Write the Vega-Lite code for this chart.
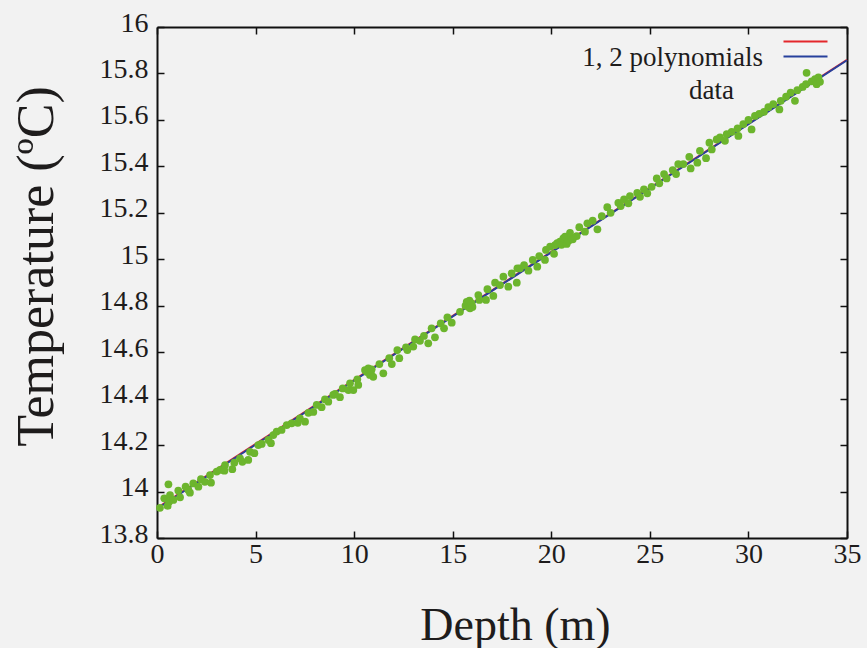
{
  "$schema": "https://vega.github.io/schema/vega-lite/v6.json",
  "width": 690,
  "height": 511,
  "autosize": {"type": "none"},
  "padding": {"left": 157, "top": 27, "right": 20, "bottom": 110},
  "background": "#f2f2f2",
  "config": {
    "font": "Liberation Serif",
    "view": {"stroke": null},
    "axis": {
      "grid": false,
      "domainColor": "#111111",
      "domainWidth": 2,
      "tickColor": "#111111",
      "tickWidth": 1.5,
      "tickSize": -7,
      "labelColor": "#1e1c1c",
      "labelFontSize": 28,
      "labelFont": "Liberation Serif",
      "titleFont": "Liberation Serif",
      "titleColor": "#1e1c1c",
      "titleFontWeight": "normal",
      "labelFlush": false,
      "labelOverlap": false
    },
    "legend": {"labelFont": "Liberation Serif", "labelColor": "#1e1c1c", "padding": 0, "labelLimit": 400}
  },
  "datasets": {
    "fits": [
      {"depth": 0, "temp": 13.929, "fit": "poly1"},
      {"depth": 35, "temp": 15.859, "fit": "poly1"},
      {"depth": 0, "temp": 13.926, "fit": "poly2"},
      {"depth": 17.5, "temp": 14.892, "fit": "poly2"},
      {"depth": 35, "temp": 15.857, "fit": "poly2"}
    ],
    "points": [
      {"depth": 0.15, "temp": 13.93}, {"depth": 0.37, "temp": 13.971}, {"depth": 0.54, "temp": 13.938},
      {"depth": 0.58, "temp": 14.031}, {"depth": 0.61, "temp": 13.956}, {"depth": 0.66, "temp": 13.985},
      {"depth": 0.83, "temp": 13.964}, {"depth": 1.08, "temp": 14.004}, {"depth": 1.17, "temp": 13.975},
      {"depth": 1.45, "temp": 14.021}, {"depth": 1.59, "temp": 14.007}, {"depth": 1.67, "temp": 13.995},
      {"depth": 1.84, "temp": 14.035}, {"depth": 2.10, "temp": 14.021}, {"depth": 2.23, "temp": 14.053},
      {"depth": 2.43, "temp": 14.042}, {"depth": 2.69, "temp": 14.071}, {"depth": 2.74, "temp": 14.038},
      {"depth": 3.03, "temp": 14.086}, {"depth": 3.20, "temp": 14.093}, {"depth": 3.42, "temp": 14.090},
      {"depth": 3.45, "temp": 14.114}, {"depth": 3.82, "temp": 14.096}, {"depth": 3.92, "temp": 14.124},
      {"depth": 4.21, "temp": 14.143}, {"depth": 4.33, "temp": 14.128}, {"depth": 4.63, "temp": 14.136},
      {"depth": 4.72, "temp": 14.171}, {"depth": 4.94, "temp": 14.165}, {"depth": 5.14, "temp": 14.200},
      {"depth": 5.31, "temp": 14.205}, {"depth": 5.65, "temp": 14.222}, {"depth": 5.78, "temp": 14.208},
      {"depth": 5.90, "temp": 14.243}, {"depth": 6.07, "temp": 14.258}, {"depth": 6.32, "temp": 14.265},
      {"depth": 6.58, "temp": 14.286}, {"depth": 6.83, "temp": 14.294}, {"depth": 7.14, "temp": 14.296},
      {"depth": 7.25, "temp": 14.315}, {"depth": 7.51, "temp": 14.301}, {"depth": 7.68, "temp": 14.339},
      {"depth": 7.93, "temp": 14.343}, {"depth": 8.10, "temp": 14.373}, {"depth": 8.35, "temp": 14.363},
      {"depth": 8.52, "temp": 14.397}, {"depth": 8.69, "temp": 14.387}, {"depth": 8.94, "temp": 14.416},
      {"depth": 9.03, "temp": 14.420}, {"depth": 9.28, "temp": 14.406}, {"depth": 9.42, "temp": 14.444},
      {"depth": 9.71, "temp": 14.437}, {"depth": 9.79, "temp": 14.466}, {"depth": 9.96, "temp": 14.437},
      {"depth": 10.16, "temp": 14.483}, {"depth": 10.21, "temp": 14.459}, {"depth": 10.55, "temp": 14.523},
      {"depth": 10.65, "temp": 14.515}, {"depth": 10.72, "temp": 14.530}, {"depth": 10.80, "temp": 14.502},
      {"depth": 10.85, "temp": 14.510}, {"depth": 10.89, "temp": 14.526}, {"depth": 10.97, "temp": 14.494},
      {"depth": 11.28, "temp": 14.549}, {"depth": 11.48, "temp": 14.509}, {"depth": 11.78, "temp": 14.574},
      {"depth": 11.91, "temp": 14.549}, {"depth": 12.19, "temp": 14.609}, {"depth": 12.29, "temp": 14.574},
      {"depth": 12.63, "temp": 14.621}, {"depth": 12.70, "temp": 14.609}, {"depth": 13.00, "temp": 14.624},
      {"depth": 13.09, "temp": 14.655}, {"depth": 13.34, "temp": 14.649}, {"depth": 13.54, "temp": 14.670},
      {"depth": 13.76, "temp": 14.638}, {"depth": 13.93, "temp": 14.703}, {"depth": 14.10, "temp": 14.664},
      {"depth": 14.39, "temp": 14.724}, {"depth": 14.56, "temp": 14.703}, {"depth": 14.73, "temp": 14.750},
      {"depth": 14.95, "temp": 14.727}, {"depth": 15.37, "temp": 14.774}, {"depth": 15.65, "temp": 14.800},
      {"depth": 15.71, "temp": 14.817}, {"depth": 15.79, "temp": 14.796}, {"depth": 15.85, "temp": 14.822},
      {"depth": 15.88, "temp": 14.789}, {"depth": 15.96, "temp": 14.810}, {"depth": 16.00, "temp": 14.795},
      {"depth": 16.30, "temp": 14.846}, {"depth": 16.35, "temp": 14.825}, {"depth": 16.69, "temp": 14.825},
      {"depth": 16.76, "temp": 14.871}, {"depth": 17.06, "temp": 14.842}, {"depth": 17.15, "temp": 14.899},
      {"depth": 17.40, "temp": 14.889}, {"depth": 17.57, "temp": 14.925}, {"depth": 17.82, "temp": 14.882},
      {"depth": 17.99, "temp": 14.939}, {"depth": 18.25, "temp": 14.899}, {"depth": 18.28, "temp": 14.961},
      {"depth": 18.41, "temp": 14.961}, {"depth": 18.62, "temp": 14.975}, {"depth": 18.84, "temp": 14.951},
      {"depth": 19.06, "temp": 14.997}, {"depth": 19.29, "temp": 14.968}, {"depth": 19.39, "temp": 15.014},
      {"depth": 19.68, "temp": 14.997}, {"depth": 19.73, "temp": 15.040}, {"depth": 19.94, "temp": 15.054},
      {"depth": 20.14, "temp": 15.023}, {"depth": 20.19, "temp": 15.061}, {"depth": 20.30, "temp": 15.070},
      {"depth": 20.44, "temp": 15.076}, {"depth": 20.52, "temp": 15.062}, {"depth": 20.61, "temp": 15.090},
      {"depth": 20.70, "temp": 15.098}, {"depth": 20.78, "temp": 15.066}, {"depth": 20.88, "temp": 15.080},
      {"depth": 20.95, "temp": 15.114}, {"depth": 21.00, "temp": 15.095}, {"depth": 21.09, "temp": 15.086},
      {"depth": 21.29, "temp": 15.100}, {"depth": 21.42, "temp": 15.138}, {"depth": 21.71, "temp": 15.119},
      {"depth": 21.83, "temp": 15.155}, {"depth": 22.10, "temp": 15.166}, {"depth": 22.34, "temp": 15.129},
      {"depth": 22.56, "temp": 15.186}, {"depth": 22.84, "temp": 15.224}, {"depth": 23.01, "temp": 15.200},
      {"depth": 23.40, "temp": 15.243}, {"depth": 23.52, "temp": 15.229}, {"depth": 23.69, "temp": 15.258},
      {"depth": 23.91, "temp": 15.241}, {"depth": 23.99, "temp": 15.272}, {"depth": 24.36, "temp": 15.286},
      {"depth": 24.50, "temp": 15.269}, {"depth": 24.70, "temp": 15.301}, {"depth": 24.87, "temp": 15.284},
      {"depth": 25.09, "temp": 15.312}, {"depth": 25.35, "temp": 15.348}, {"depth": 25.48, "temp": 15.327},
      {"depth": 25.72, "temp": 15.367}, {"depth": 25.85, "temp": 15.348}, {"depth": 26.16, "temp": 15.384},
      {"depth": 26.33, "temp": 15.367}, {"depth": 26.44, "temp": 15.410}, {"depth": 26.70, "temp": 15.410},
      {"depth": 27.00, "temp": 15.441}, {"depth": 27.07, "temp": 15.391}, {"depth": 27.41, "temp": 15.416},
      {"depth": 27.54, "temp": 15.467}, {"depth": 27.85, "temp": 15.435}, {"depth": 28.02, "temp": 15.502},
      {"depth": 28.14, "temp": 15.473}, {"depth": 28.39, "temp": 15.516}, {"depth": 28.56, "temp": 15.525},
      {"depth": 28.81, "temp": 15.510}, {"depth": 28.90, "temp": 15.539}, {"depth": 29.15, "temp": 15.549},
      {"depth": 29.45, "temp": 15.564}, {"depth": 29.49, "temp": 15.531}, {"depth": 29.74, "temp": 15.582},
      {"depth": 30.00, "temp": 15.600}, {"depth": 30.16, "temp": 15.559}, {"depth": 30.33, "temp": 15.617},
      {"depth": 30.55, "temp": 15.626}, {"depth": 30.79, "temp": 15.635}, {"depth": 31.01, "temp": 15.655},
      {"depth": 31.26, "temp": 15.668}, {"depth": 31.57, "temp": 15.645}, {"depth": 31.64, "temp": 15.682},
      {"depth": 31.91, "temp": 15.700}, {"depth": 32.14, "temp": 15.717}, {"depth": 32.36, "temp": 15.682},
      {"depth": 32.48, "temp": 15.728}, {"depth": 32.75, "temp": 15.742}, {"depth": 32.92, "temp": 15.754},
      {"depth": 32.95, "temp": 15.803}, {"depth": 33.21, "temp": 15.766}, {"depth": 33.38, "temp": 15.776},
      {"depth": 33.46, "temp": 15.754}, {"depth": 33.55, "temp": 15.783}, {"depth": 33.63, "temp": 15.764}
    ]
  },
  "layer": [
    {
      "data": {"name": "fits"},
      "mark": {"type": "line", "strokeWidth": 2},
      "encoding": {
        "x": {
          "field": "depth", "type": "quantitative",
          "scale": {"domain": [0, 35], "nice": false, "zero": false},
          "axis": {
            "orient": "bottom", "values": [0, 5, 10, 15, 20, 25, 30, 35], "format": "~g",
            "labelPadding": 9,
            "title": "Depth (m)", "titleFontSize": 46, "titleX": 358, "titleY": 101,
            "titleAlign": "center", "titleBaseline": "alphabetic", "titleAngle": 0
          }
        },
        "y": {
          "field": "temp", "type": "quantitative",
          "scale": {"domain": [13.8, 16], "nice": false, "zero": false},
          "axis": {
            "orient": "left", "values": [13.8, 14, 14.2, 14.4, 14.6, 14.8, 15, 15.2, 15.4, 15.6, 15.8, 16], "format": "~g",
            "labelPadding": 16, "labelOffset": -4,
            "title": "Temperature (ºC)", "titleFontSize": 52, "titleX": -105, "titleY": 239,
            "titleAngle": -90, "titleAlign": "center", "titleBaseline": "alphabetic"
          }
        },
        "color": {
          "field": "fit", "type": "nominal",
          "scale": {"domain": ["poly1", "poly2"], "range": ["#e3272b", "#27409c"]},
          "legend": {
            "orient": "none", "legendX": 642, "legendY": 8, "title": null,
            "symbolType": "M-4,0H4", "symbolSize": 121, "symbolStrokeWidth": 2,
            "labelExpr": "''", "labelFontSize": 10, "rowPadding": 3
          }
        }
      }
    },
    {
      "data": {"name": "points"},
      "mark": {"type": "point", "filled": true, "size": 60, "color": "#6cb52d"},
      "encoding": {
        "x": {
          "field": "depth", "type": "quantitative",
          "axis": {"orient": "top", "values": [0, 5, 10, 15, 20, 25, 30, 35], "labels": false, "title": null}
        },
        "y": {
          "field": "temp", "type": "quantitative",
          "axis": {"orient": "right", "values": [13.8, 14, 14.2, 14.4, 14.6, 14.8, 15, 15.2, 15.4, 15.6, 15.8, 16], "labels": false, "title": null}
        },
        "shape": {
          "datum": "1, 2 polynomials", "type": "nominal",
          "scale": {"domain": ["1, 2 polynomials"], "range": ["circle"]},
          "legend": {
            "orient": "none", "legendX": 575, "legendY": 17, "title": null,
            "symbolOpacity": 0, "symbolSize": 4, "symbolStrokeWidth": 0,
            "labelAlign": "right", "labelFontSize": 27
          }
        },
        "opacity": {
          "datum": "data", "type": "ordinal",
          "scale": {"domain": ["data"], "range": [1]},
          "legend": {
            "orient": "none", "legendX": 546, "legendY": 50, "title": null,
            "symbolOpacity": 0, "symbolSize": 4, "symbolStrokeWidth": 0,
            "labelAlign": "right", "labelFontSize": 27
          }
        }
      }
    }
  ],
  "resolve": {"axis": {"x": "independent", "y": "independent"}}
}
